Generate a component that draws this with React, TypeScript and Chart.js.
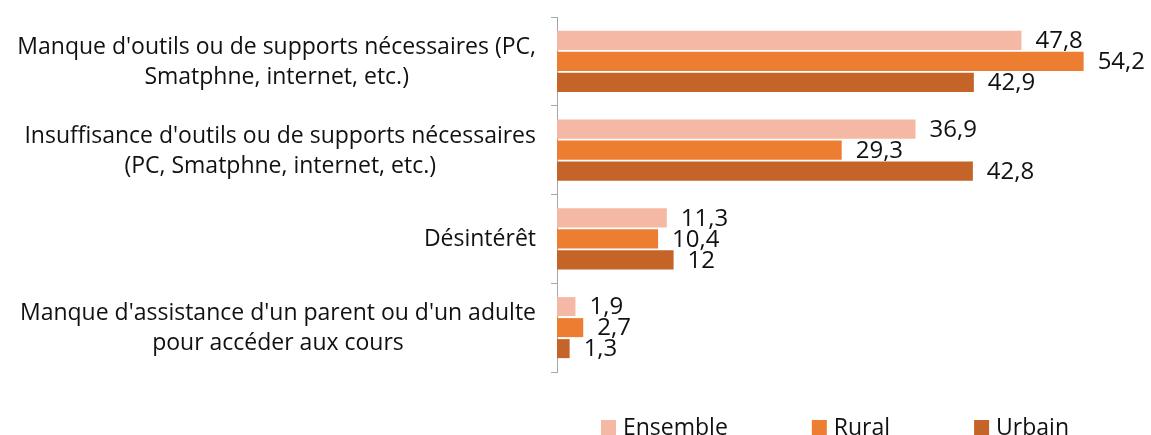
import React, { useEffect, useRef } from "react";
import { Chart, registerables } from "chart.js";

Chart.register(...registerables);

const categories: string[][] = [
  ["Manque d'outils ou de supports nécessaires (PC,", "Smatphne, internet, etc.)"],
  ["Insuffisance d'outils ou de supports nécessaires", "(PC, Smatphne, internet, etc.)"],
  ["Désintérêt"],
  ["Manque d'assistance d'un parent ou d'un adulte", "pour accéder aux cours"],
];
const seriesNames = ["Ensemble", "Rural", "Urbain"];
const ensemble = [47.8, 36.9, 11.3, 1.9];
const rural = [54.2, 29.3, 10.4, 2.7];
const urbain = [42.9, 42.8, 12, 1.3];

const COLORS = ["#F4B8A5", "#ED7D31", "#C46428"];
const LABEL_FONT = "23px 'Open Sans', Lato, sans-serif";
const VALUE_FONT = "24px 'Open Sans', Lato, sans-serif";
const TEXT = "#111111";

const fmt = (v: number) => String(v).replace(".", ",");

const customDraw = {
  id: "customDraw",
  afterDatasetsDraw(chart: any) {
    const ctx = chart.ctx as CanvasRenderingContext2D;
    ctx.save();
    ctx.fillStyle = TEXT;
    // data labels
    ctx.font = VALUE_FONT;
    ctx.textAlign = "left";
    ctx.textBaseline = "middle";
    chart.data.datasets.forEach((ds: any, di: number) => {
      const meta = chart.getDatasetMeta(di);
      meta.data.forEach((bar: any, i: number) => {
        ctx.fillText(fmt(ds.data[i]), bar.x + 14, bar.y + 1);
      });
    });
    // category labels
    ctx.font = LABEL_FONT;
    const yScale = chart.scales.y;
    const rightEdge = 536;
    const lineH = 30;
    categories.forEach((lines, i) => {
      const cy = yScale.getPixelForValue(i);
      const w = Math.max(...lines.map((l) => ctx.measureText(l).width));
      const cx = rightEdge - w / 2;
      ctx.textAlign = "center";
      lines.forEach((l, li) => {
        const y = cy + (li - (lines.length - 1) / 2) * lineH + 1;
        ctx.fillText(l, cx, y);
      });
    });
    // legend
    const gap = 84;
    const box = 15;
    const items = seriesNames.map((n) => box + 7 + ctx.measureText(n).width);
    const total = items.reduce((a, b) => a + b, 0) + gap * (items.length - 1);
    let x = 835 - total / 2;
    const ly = 428;
    ctx.textAlign = "left";
    seriesNames.forEach((n, i) => {
      ctx.fillStyle = COLORS[i];
      ctx.fillRect(x, ly - 8, box, box);
      ctx.fillStyle = TEXT;
      ctx.fillText(n, x + box + 7, ly);
      x += items[i] + gap;
    });
    ctx.restore();
  },
};

export default function App() {
  const ref = useRef<HTMLCanvasElement>(null);
  useEffect(() => {
    if (!ref.current) return;
    const chart = new Chart(ref.current, {
      type: "bar",
      data: {
        labels: categories.map((c) => c.join(" ")),
        datasets: [ensemble, rural, urbain].map((d, i) => ({
          label: seriesNames[i],
          data: d,
          backgroundColor: COLORS[i],
          categoryPercentage: 0.71,
          barPercentage: 0.905,
        })),
      },
      options: {
        indexAxis: "y",
        animation: false,
        responsive: false,
        maintainAspectRatio: false,
        layout: { padding: { left: 551, right: 11, top: 17, bottom: 63 } },
        plugins: { legend: { display: false }, tooltip: { enabled: false } },
        scales: {
          x: { display: false, min: 0, max: 60 },
          y: {
            display: true,
            ticks: { display: false },
            grid: {
              drawOnChartArea: false,
              drawTicks: true,
              tickLength: 6,
              color: "#A6A6A6",
              offset: true,
            },
            border: { display: true, color: "#A6A6A6", width: 1 },
          },
        },
      },
      plugins: [customDraw],
    });
    return () => chart.destroy();
  }, []);
  return (
    <div style={{ position: "fixed", left: 0, top: 0, width: 1151, height: 435, background: "#fff" }}>
      <canvas ref={ref} width={1151} height={435} style={{ display: "block" }} />
    </div>
  );
}
